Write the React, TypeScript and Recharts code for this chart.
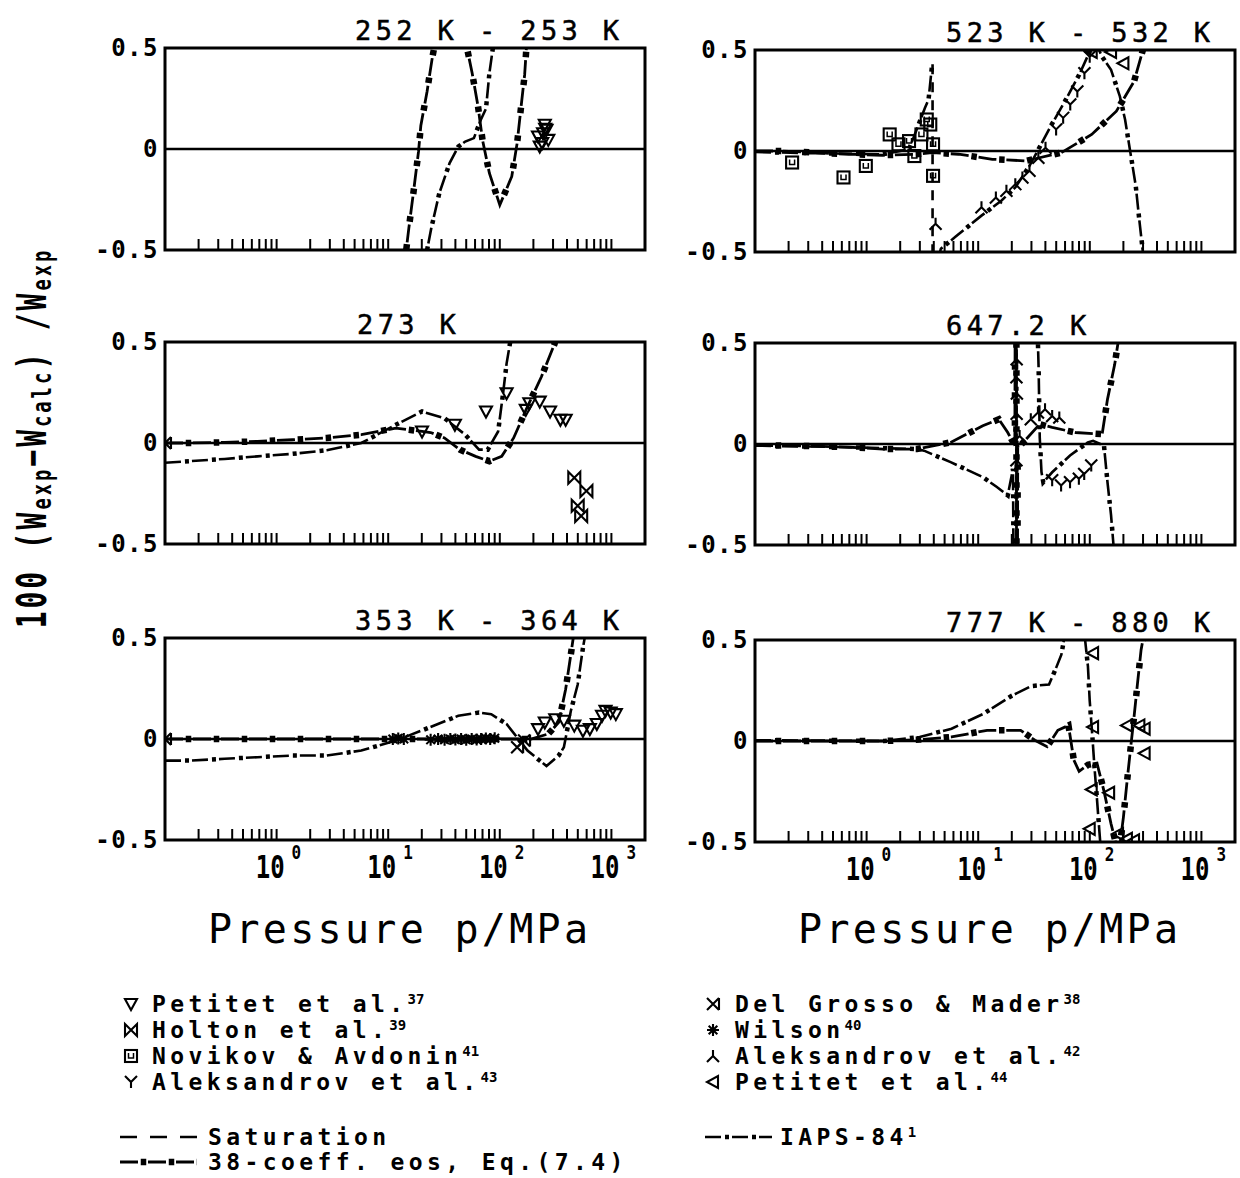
import React from 'react';
import { ComposedChart, Line, Scatter, XAxis, YAxis, ReferenceLine, ReferenceArea } from 'recharts';

type Pt = [number, number];

// ---------- axes ----------
const X_DOMAIN: [number, number] = [0.1, 2000];
const Y_DOMAIN: [number, number] = [-0.5, 0.5];
const X_TICKS = [
  0.2, 0.3, 0.4, 0.5, 0.6, 0.7, 0.8, 0.9, 1,
  2, 3, 4, 5, 6, 7, 8, 9, 10,
  20, 30, 40, 50, 60, 70, 80, 90, 100,
  200, 300, 400, 500, 600, 700, 800, 900, 1000,
];
const X_DECADES = [1, 10, 100, 1000];
const X_DECADE_EXP = ['0', '1', '2', '3'];
const Y_TICKS = [-0.5, 0, 0.5];
const Y_TICK_LABELS = ['-0.5', '0', '0.5'];

// ---------- 252 K - 253 K ----------
const EOS38_252: Pt[] = [[14, -0.6], [14.5, -0.5], [15.3, -0.393], [16.8, -0.219], [18.7, -0.012], [19.6, 0.115], [22.3, 0.285], [24.8, 0.45], [25.8, 0.5], [35, 1.3], [50.8, 0.5], [56.5, 0.376], [63.8, 0.211], [70, 0.045], [80.7, -0.12], [100, -0.277], [128, -0.136], [143, 0.029], [154, 0.194], [167, 0.368], [173, 0.5], [178, 0.6]];
const IAPS_252: Pt[] = [[21.5, -0.6], [22.3, -0.5], [24.3, -0.393], [28.7, -0.219], [35.5, -0.07], [42.5, 0.012], [49, 0.037], [58.6, 0.054], [67.6, 0.145], [75.2, 0.2], [80.7, 0.376], [86.7, 0.5], [90, 0.6]];
const PET37_252: Pt[] = [[220, 0.062], [244, 0.078], [262, 0.095], [253, 0.12], [228, 0.012], [272, 0.045], [240, 0.03], [255, 0.1]];

// ---------- 273 K ----------
const EOS38_273: Pt[] = [[0.1, 0], [0.167, 0], [0.342, 0.003], [0.673, 0.008], [1.38, 0.016], [2.81, 0.025], [5.74, 0.041], [11.7, 0.074], [20.1, 0.057], [24, 0.052], [31.9, 0.025], [44, -0.033], [60.7, -0.066], [80.7, -0.09], [104, -0.066], [133, 0.025], [177, 0.18], [236, 0.328], [310, 0.492], [330, 0.58]];
const IAPS_273: Pt[] = [[0.1, -0.098], [0.167, -0.09], [0.342, -0.079], [0.673, -0.066], [1.38, -0.054], [2.81, -0.036], [5.74, 0], [11.7, 0.09], [20.1, 0.156], [31.9, 0.123], [49, 0.041], [65.2, -0.033], [78, -0.033], [96.6, 0.057], [107, 0.246], [115, 0.393], [124, 0.5], [128, 0.6]];
const PET37_273: Pt[] = [[20.1, 0.057], [39.6, 0.09], [75.2, 0.156], [115, 0.246], [171, 0.164], [184, 0.197], [228, 0.205], [282, 0.156], [349, 0.115], [389, 0.115]];
const HOLTON_273: Pt[] = [[465, -0.172], [597, -0.238], [499, -0.311], [536, -0.361]];
const DELGROSSO_273: Pt[] = [[0.1, 0]];

// ---------- 353 K - 364 K ----------
const EOS38_353: Pt[] = [[0.1, 0], [0.167, 0], [0.342, 0], [0.673, 0], [1.38, 0], [2.81, 0], [5.74, 0], [11.7, 0], [30, 0], [100, 0], [190, 0], [272, 0.025], [337, 0.082], [389, 0.246], [433, 0.418], [455, 0.5], [470, 0.6]];
const IAPS_353: Pt[] = [[0.1, -0.107], [0.167, -0.107], [0.342, -0.098], [0.673, -0.09], [1.38, -0.082], [2.81, -0.082], [5.74, -0.057], [11.7, -0.008], [21.5, 0.049], [42.5, 0.115], [65.2, 0.131], [83.8, 0.123], [115, 0.074], [143, 0.008], [177, -0.057], [228, -0.107], [262, -0.134], [337, -0.082], [375, -0.041], [433, 0.139], [499, 0.27], [556, 0.451], [576, 0.5], [590, 0.6]];
const WILSON_353: Pt[] = [[11, 0], [12.3, 0.003], [13.8, 0], [24, -0.004], [28, 0], [32, -0.004], [36, 0], [40, -0.003], [45, 0], [50, -0.004], [56, 0], [62, -0.003], [68, 0], [75, 0.003], [82, 0], [90, 0.004]];
const DELGROSSO_353: Pt[] = [[0.1, 0], [143, -0.041], [165, -0.008]];
const PET37_353: Pt[] = [[220, 0.049], [253, 0.082], [314, 0.098], [375, 0.09], [465, 0.066], [556, 0.041], [641, 0.049], [740, 0.074], [824, 0.115], [885, 0.139], [985, 0.131], [1096, 0.123]];

// ---------- 523 K - 532 K ----------
const EOS38_523: Pt[] = [[0.1, 0], [0.173, 0], [0.346, -0.008], [0.693, -0.016], [1.39, -0.021], [2.78, -0.016], [3.86, -0.008], [6.68, -0.016], [13.4, -0.041], [26.8, -0.049], [55.6, -0.008], [104, 0.082], [173, 0.197], [249, 0.344], [299, 0.5], [310, 0.6]];
const IAPS_523_VAP: Pt[] = [[0.1, -0.005], [0.346, -0.011], [1.39, -0.016], [2.4, 0.008], [3.33, 0.213], [3.59, 0.254], [3.86, 0.426]];
const IAPS_523_LIQ: Pt[] = [[4.3, -0.55], [4.63, -0.484], [6.21, -0.426], [10.7, -0.32], [16.1, -0.246], [21.5, -0.18], [28.8, -0.074], [34.6, 0.008], [44.7, 0.123], [59.8, 0.246], [80.2, 0.377], [99.8, 0.492], [114, 0.53], [129, 0.467], [155, 0.402], [186, 0.27], [207, 0.156], [231, -0.008], [258, -0.172], [278, -0.344], [299, -0.5], [310, -0.6]];
const SAT_523: Pt[] = [[3.9, 0.43], [3.9, -0.5]];
const NOVIKOV_523: Pt[] = [[0.215, -0.057], [0.621, -0.131], [0.984, -0.074], [1.61, 0.082], [1.93, 0.033], [2.4, 0.049], [2.68, -0.025], [3.1, 0.082], [3.46, 0.156], [3.72, 0.131], [3.94, 0.033], [3.94, -0.123]];
const AL42_523: Pt[] = [[4.15, -0.36], [10.7, -0.279], [14.4, -0.23], [17.9, -0.197], [21.5, -0.164], [24.9, -0.131], [28.8, -0.098], [34.6, -0.033], [40.1, 0.016]];
const AL43_523: Pt[] = [[49.9, 0.107], [57.7, 0.164], [66.8, 0.23], [77.3, 0.295], [89.5, 0.385], [99.8, 0.467]];
const PET44_523: Pt[] = [[104, 0.49], [155, 0.49], [200, 0.434]];

// ---------- 647.2 K ----------
const EOS38_647: Pt[] = [[0.1, -0.008], [0.173, -0.008], [0.347, -0.011], [0.698, -0.016], [1.4, -0.025], [2.82, -0.025], [5.66, 0.008], [11, 0.09], [15.3, 0.123], [18.4, 0.057], [21.3, -0.008], [21.95, 3], [22.1, -3], [22.6, -0.01], [23.8, -0.008], [35.6, 0.098], [46, 0.082], [74.2, 0.057], [129, 0.049], [144, 0.221], [167, 0.393], [179, 0.5], [185, 0.6]];
const IAPS_647: Pt[] = [[0.1, -0.008], [0.698, -0.016], [2.82, -0.025], [3.27, -0.033], [5.66, -0.09], [11, -0.164], [14.7, -0.213], [18.4, -0.254], [20.5, -0.123], [21.9, -3], [22.05, 3], [34, 3], [34.3, 0.5], [34.8, 0.369], [35.6, 0.033], [36.9, -0.139], [38.3, -0.189], [46, -0.14], [66.5, -0.057], [96, 0.008], [107, 0.016], [134, -0.008], [144, -0.189], [155, -0.352], [163, -0.5], [168, -0.6]];
const AL42_647: Pt[] = [[29.6, 0.123], [34.3, 0.156], [39.7, 0.172], [46, 0.139], [53.3, 0.131], [22.1, 0.42], [22.0, 0.33], [22.2, 0.25], [22.1, 0.15], [22.0, -0.08], [23.5, 0.04]];
const AL43_647: Pt[] = [[46, -0.18], [55.3, -0.205], [66.5, -0.189], [79.8, -0.172], [89.1, -0.148], [103, -0.107]];

// ---------- 777 K - 880 K ----------
const EOS38_777: Pt[] = [[0.1, 0], [0.179, 0], [0.359, 0], [0.719, 0], [1.44, 0], [2.99, 0.007], [5.77, 0.02], [12, 0.053], [24, 0.053], [32.2, 0.004], [41.5, -0.028], [51.7, 0.053], [64.4, 0.077], [71.9, -0.094], [80.2, -0.15], [96.2, -0.118], [116, -0.11], [134, -0.248], [155, -0.41], [170, -0.5], [178, -0.6], [200, -0.378], [215, -0.207], [231, -0.045], [249, 0.118], [268, 0.289], [288, 0.451], [299, 0.5], [305, 0.6]];
const IAPS_777: Pt[] = [[0.1, 0.004], [1.44, 0], [2.99, 0.02], [5.77, 0.061], [11.1, 0.134], [20, 0.224], [29.9, 0.272], [43.1, 0.28], [49.9, 0.362], [55.6, 0.427], [58.6, 0.5], [70, 0.9], [90.8, 0.5], [96.2, 0.37], [99.8, 0.2], [105, 0.037], [110, -0.126], [116, -0.289], [122, -0.45], [124, -0.5], [126, -0.6]];
const PET44_777: Pt[] = [[107, 0.435], [107, 0.069], [104, -0.24], [149, -0.256], [99.8, -0.435], [215, 0.077], [278, 0.077], [310, 0.061], [310, -0.061], [179, -0.46], [215, -0.484], [249, -0.492]];

// ---------- layout ----------
const MONO = "'DejaVu Sans Mono', 'Liberation Mono', monospace";
const BOX_LEFT = [165, 755];
const BOX_TOP = [[48, 342, 638], [50, 343, 640]];
const BOX_W = 480;
const BOX_H = 202;
const ML = 100;
const MT = 20;
const MR = 10;
const XH = 50;
const CW = ML + BOX_W + MR;
const CH = MT + BOX_H + XH;

type MarkerKind = 'triDown' | 'bowtie' | 'squareU' | 'Y' | 'xBar' | 'star' | 'invY' | 'triLeft';
type LineKind = 'eos38' | 'iaps' | 'sat';

const toRows = (a: Pt[]) => a.map(([p, v]) => ({ p, v }));

function Marker({ kind, x, y, s = 6 }: { kind: MarkerKind; x: number; y: number; s?: number }) {
  const common = { fill: 'none', stroke: '#000', strokeWidth: 2.1 };
  switch (kind) {
    case 'triDown':
      return <polygon points={`${x - s},${y - s + 1} ${x + s},${y - s + 1} ${x},${y + s}`} {...common} />;
    case 'triLeft':
      return <polygon points={`${x + s - 1},${y - s} ${x + s - 1},${y + s} ${x - s},${y}`} {...common} />;
    case 'bowtie':
      return <path d={`M${x - s},${y - s} L${x + s},${y + s} L${x + s},${y - s} L${x - s},${y + s} Z`} {...common} />;
    case 'xBar':
      return <path d={`M${x - s},${y - s} L${x + s},${y + s} M${x - s},${y + s} L${x + s},${y - s} M${x + s},${y - s} L${x + s},${y + s}`} {...common} />;
    case 'squareU':
      return (
        <g>
          <rect x={x - s} y={y - s} width={2 * s} height={2 * s} {...common} />
          <path d={`M${x - 2.5},${y - 3} L${x - 2.5},${y + 2} L${x + 2.5},${y + 2} L${x + 2.5},${y - 3}`} {...common} strokeWidth={1.5} />
        </g>
      );
    case 'Y':
      return <path d={`M${x - s},${y - s} L${x},${y} L${x + s},${y - s} M${x},${y} L${x},${y + s}`} {...common} />;
    case 'invY':
      return <path d={`M${x - s},${y + s} L${x},${y} L${x + s},${y + s} M${x},${y} L${x},${y - s}`} {...common} />;
    case 'star': {
      const d = s * 0.72;
      return <path d={`M${x - s},${y} L${x + s},${y} M${x},${y - s} L${x},${y + s} M${x - d},${y - d} L${x + d},${y + d} M${x - d},${y + d} L${x + d},${y - d}`} {...common} />;
    }
    default:
      return null;
  }
}

const renderXTick = (showLabel: boolean) => (props: any) => {
  const { x, y, payload } = props;
  const v = payload.value as number;
  const di = X_DECADES.findIndex((d) => Math.abs(d - v) / d < 1e-6);
  return (
    <g>
      <line x1={x} x2={x} y1={y} y2={y - 11} stroke="#000" strokeWidth={2} />
      {showLabel && di >= 0 && (
        <g>
          <g transform={`translate(${x + 8},${y + 38}) scale(0.75,1)`}>
            <text x={0} y={0} textAnchor="end" fontFamily={MONO} fontWeight="bold" fontSize={32} fill="#000">10</text>
          </g>
          <g transform={`translate(${x + 15},${y + 19}) scale(0.8,1)`}>
            <text x={0} y={0} textAnchor="start" fontFamily={MONO} fontWeight="bold" fontSize={20} fill="#000">{X_DECADE_EXP[di]}</text>
          </g>
        </g>
      )}
    </g>
  );
};

const renderYTick = (props: any) => {
  const { x, y, payload } = props;
  const idx = Y_TICKS.findIndex((t) => Math.abs(t - payload.value) < 1e-9);
  return (
    <text x={x} y={y + 8} textAnchor="end" fontFamily={MONO} fontWeight="bold" fontSize={24} letterSpacing={1.5} fill="#000">
      {Y_TICK_LABELS[idx]}
    </text>
  );
};

function lineElements(kind: LineKind, data: Pt[], key: string) {
  const rows = toRows(data);
  const base = { data: rows, dataKey: 'v', type: 'linear' as const, stroke: '#000', dot: false, activeDot: false, isAnimationActive: false, legendType: 'none' as const };
  if (kind === 'eos38') {
    return [
      <Line key={key + 'a'} {...base} strokeWidth={2.8} strokeDasharray="18 10" />,
      <Line key={key + 'b'} {...base} strokeWidth={6.5} strokeDasharray="5.5 22.5" strokeDashoffset={7.25} />,
    ];
  }
  if (kind === 'iaps') {
    return [
      <Line key={key + 'a'} {...base} strokeWidth={2.6} strokeDasharray="16 11" />,
      <Line key={key + 'b'} {...base} strokeWidth={4.5} strokeDasharray="4 23" strokeDashoffset={7} />,
    ];
  }
  return [<Line key={key + 'a'} {...base} strokeWidth={2.6} strokeDasharray="10 8" />];
}

type PanelDef = {
  col: number;
  row: number;
  lines: { kind: LineKind; data: Pt[] }[];
  marks: { marker: MarkerKind; data: Pt[] }[];
};

const PANELS: PanelDef[] = [
  { col: 0, row: 0, lines: [{ kind: 'eos38', data: EOS38_252 }, { kind: 'iaps', data: IAPS_252 }], marks: [{ marker: 'triDown', data: PET37_252 }] },
  { col: 0, row: 1, lines: [{ kind: 'eos38', data: EOS38_273 }, { kind: 'iaps', data: IAPS_273 }], marks: [{ marker: 'triDown', data: PET37_273 }, { marker: 'bowtie', data: HOLTON_273 }, { marker: 'xBar', data: DELGROSSO_273 }] },
  { col: 0, row: 2, lines: [{ kind: 'eos38', data: EOS38_353 }, { kind: 'iaps', data: IAPS_353 }], marks: [{ marker: 'star', data: WILSON_353 }, { marker: 'xBar', data: DELGROSSO_353 }, { marker: 'triDown', data: PET37_353 }] },
  { col: 1, row: 0, lines: [{ kind: 'eos38', data: EOS38_523 }, { kind: 'iaps', data: IAPS_523_VAP }, { kind: 'iaps', data: IAPS_523_LIQ }, { kind: 'sat', data: SAT_523 }], marks: [{ marker: 'squareU', data: NOVIKOV_523 }, { marker: 'invY', data: AL42_523 }, { marker: 'Y', data: AL43_523 }, { marker: 'triLeft', data: PET44_523 }] },
  { col: 1, row: 1, lines: [{ kind: 'eos38', data: EOS38_647 }, { kind: 'iaps', data: IAPS_647 }], marks: [{ marker: 'invY', data: AL42_647 }, { marker: 'Y', data: AL43_647 }] },
  { col: 1, row: 2, lines: [{ kind: 'eos38', data: EOS38_777 }, { kind: 'iaps', data: IAPS_777 }], marks: [{ marker: 'triLeft', data: PET44_777 }] },
];

const TITLES = [
  { text: '252 K - 253 K', x: 355, y: 40 },
  { text: '273 K', x: 357, y: 334 },
  { text: '353 K - 364 K', x: 355, y: 630 },
  { text: '523 K - 532 K', x: 946, y: 42 },
  { text: '647.2 K', x: 946, y: 335 },
  { text: '777 K - 880 K', x: 946, y: 632 },
];

function Panel({ col, row, lines, marks }: PanelDef) {
  const left = BOX_LEFT[col] - ML;
  const top = BOX_TOP[col][row] - MT;
  const showX = row === 2;
  return (
    <div style={{ position: 'absolute', left, top }}>
      <ComposedChart width={CW} height={CH} margin={{ top: MT, right: MR, bottom: 0, left: 0 }}>
        <XAxis dataKey="p" type="number" scale="log" domain={X_DOMAIN} allowDataOverflow ticks={X_TICKS} interval={0}
          tickLine={false} axisLine={false} tickSize={0} tickMargin={0} height={XH} tick={renderXTick(showX)} />
        <YAxis dataKey="v" type="number" domain={Y_DOMAIN} allowDataOverflow ticks={Y_TICKS} interval={0}
          tickLine={false} axisLine={false} tickSize={0} tickMargin={6} width={ML} tick={renderYTick} />
        <ReferenceLine y={0} stroke="#000" strokeWidth={2.5} />
        {lines.flatMap((l, i) => lineElements(l.kind, l.data, `l${i}`))}
        {marks.map((m, i) => (
          <Scatter key={`m${i}`} data={toRows(m.data)} dataKey="v" isAnimationActive={false} legendType="none"
            shape={(props: any) => <Marker kind={m.marker} x={props.cx} y={props.cy} />} />
        ))}
        <ReferenceArea x1={X_DOMAIN[0]} x2={X_DOMAIN[1]} y1={Y_DOMAIN[0]} y2={Y_DOMAIN[1]} fill="none" fillOpacity={0}
          stroke="#000" strokeWidth={3} ifOverflow="visible" />
      </ComposedChart>
    </div>
  );
}

const LEGEND_LEFT = [
  { marker: 'triDown' as MarkerKind, text: 'Petitet et al.', sup: '37' },
  { marker: 'bowtie' as MarkerKind, text: 'Holton et al.', sup: '39' },
  { marker: 'squareU' as MarkerKind, text: 'Novikov & Avdonin', sup: '41' },
  { marker: 'Y' as MarkerKind, text: 'Aleksandrov et al.', sup: '43' },
];
const LEGEND_RIGHT = [
  { marker: 'xBar' as MarkerKind, text: 'Del Grosso & Mader', sup: '38' },
  { marker: 'star' as MarkerKind, text: 'Wilson', sup: '40' },
  { marker: 'invY' as MarkerKind, text: 'Aleksandrov et al.', sup: '42' },
  { marker: 'triLeft' as MarkerKind, text: 'Petitet et al.', sup: '44' },
];
const LEGEND_ROWS = [1004, 1030, 1056, 1082];

function LegendText({ x, y, text, sup }: { x: number; y: number; text: string; sup?: string }) {
  return (
    <text x={x} y={y} fontFamily={MONO} fontWeight="bold" fontSize={23} letterSpacing={4.4} fill="#000">
      {text}
      {sup && <tspan fontSize={14} dy={-8} letterSpacing={0}>{sup}</tspan>}
    </text>
  );
}

export default function App() {
  return (
    <div style={{ position: 'absolute', left: 0, top: 0, width: 1240, height: 1178, background: '#fff', overflow: 'hidden' }}>
      {PANELS.map((pn, i) => <Panel key={i} {...pn} />)}
      <svg width={1240} height={1178} style={{ position: 'absolute', left: 0, top: 0, pointerEvents: 'none' }}>
        {TITLES.map((t, i) => (
          <text key={i} x={t.x} y={t.y} fontFamily={MONO} fontSize={27} letterSpacing={4.4} fill="#000" stroke="#000" strokeWidth={0.5}>{t.text}</text>
        ))}
        <g transform="translate(46,438) rotate(-90) scale(0.7,1)">
          <text x={0} y={0} textAnchor="middle" fontFamily={MONO} fontWeight="bold" fontSize={40} letterSpacing={4.2} fill="#000">
            100 (W<tspan fontSize={27} dy={5}>exp</tspan><tspan dy={-5}>−W</tspan><tspan fontSize={27} dy={5}>calc</tspan><tspan dy={-5}>) /W</tspan><tspan fontSize={27} dy={5}>exp</tspan>
          </text>
        </g>
        <text x={208} y={943} fontFamily={MONO} fontSize={40} letterSpacing={3.3} fill="#000">Pressure p/MPa</text>
        <text x={798} y={943} fontFamily={MONO} fontSize={40} letterSpacing={3.3} fill="#000">Pressure p/MPa</text>

        {LEGEND_LEFT.map((l, i) => (
          <g key={`ll${i}`}>
            <Marker kind={l.marker} x={131} y={LEGEND_ROWS[i]} />
            <LegendText x={152} y={LEGEND_ROWS[i] + 8} text={l.text} sup={l.sup} />
          </g>
        ))}
        {LEGEND_RIGHT.map((l, i) => (
          <g key={`lr${i}`}>
            <Marker kind={l.marker} x={713} y={LEGEND_ROWS[i]} />
            <LegendText x={735} y={LEGEND_ROWS[i] + 8} text={l.text} sup={l.sup} />
          </g>
        ))}
        <line x1={120} x2={197} y1={1137} y2={1137} stroke="#000" strokeWidth={2.6} strokeDasharray="17 13" />
        <LegendText x={208} y={1145} text="Saturation" />
        <line x1={120} x2={197} y1={1162} y2={1162} stroke="#000" strokeWidth={2.8} strokeDasharray="18 10" />
        <line x1={120} x2={197} y1={1162} y2={1162} stroke="#000" strokeWidth={6.5} strokeDasharray="5.5 22.5" strokeDashoffset={7.25} />
        <LegendText x={208} y={1170} text="38-coeff. eos, Eq.(7.4)" />
        <line x1={705} x2={772} y1={1137} y2={1137} stroke="#000" strokeWidth={2.6} strokeDasharray="16 11" />
        <line x1={705} x2={772} y1={1137} y2={1137} stroke="#000" strokeWidth={4.5} strokeDasharray="4 23" strokeDashoffset={7} />
        <LegendText x={780} y={1145} text="IAPS-84" sup="1" />
      </svg>
    </div>
  );
}
